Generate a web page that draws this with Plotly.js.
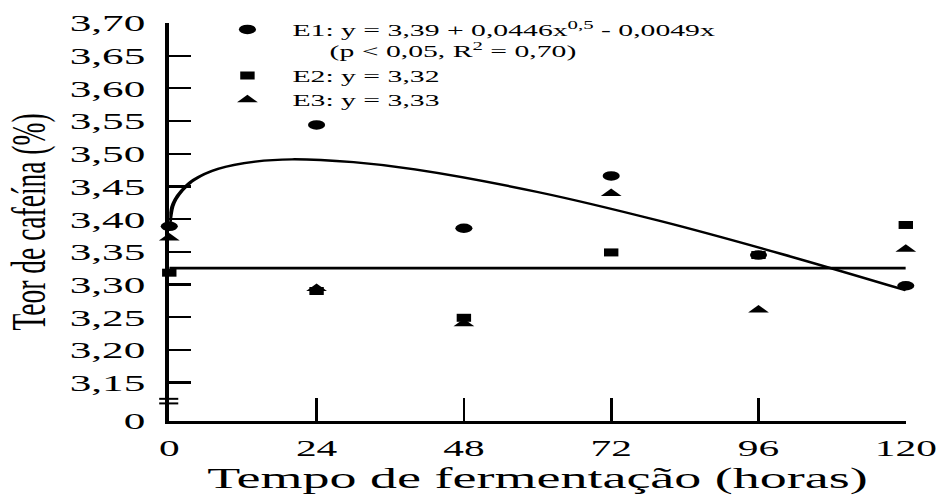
<!DOCTYPE html>
<html>
<head>
<meta charset="utf-8">
<script src="https://cdn.plot.ly/plotly-3.0.1.min.js"></script>
<style>
  html, body { margin: 0; padding: 0; background: #fff; overflow: hidden; }
  #chart { width: 522px; height: 495px; transform: scaleX(1.8008); transform-origin: 0 0; }
</style>
</head>
<body>
<div id="chart"></div>
<script>
// Fermentation time (hours)
var times = [0, 24, 48, 72, 96, 120];
// Caffeine content (%) per treatment
var e1 = [3.389, 3.544, 3.386, 3.466, 3.345, 3.298];
var e2 = [3.318, 3.290, 3.249, 3.349, 3.345, 3.391];
var e3 = [3.371, 3.294, 3.240, 3.439, 3.261, 3.354];
// Fitted curve for E1
var fitX = [0, 0.5, 1, 2, 4, 8, 14, 20, 30, 40, 60, 80, 100, 120];
var fitY = [3.390, 3.419, 3.430, 3.443, 3.460, 3.477, 3.488, 3.4915, 3.487, 3.476, 3.4415, 3.397, 3.346, 3.291];
// Mean line (E2 and E3 overlap)
var meanX = [0, 120];
var meanY = [3.325, 3.325];
// Tick labels
var xTicks = [0, 24, 48, 72, 96, 120];
var yTickVals = [3.0911, 3.15, 3.20, 3.25, 3.30, 3.35, 3.40, 3.45, 3.50, 3.55, 3.60, 3.65, 3.70];
var yTickText = ["0", "3,15", "3,20", "3,25", "3,30", "3,35", "3,40", "3,45", "3,50", "3,55", "3,60", "3,65", "3,70"];

var FONT = "Liberation Serif, Times New Roman, serif";

var traces = [
  { x: fitX, y: fitY, mode: "lines", line: { color: "#000", width: 2.3, shape: "spline" }, showlegend: false, hoverinfo: "skip", cliponaxis: false },
  { x: meanX, y: meanY, mode: "lines", line: { color: "#000", width: 2.8 }, showlegend: false, hoverinfo: "skip", cliponaxis: false },
  { x: times, y: e1, mode: "markers", cliponaxis: false,
    name: "E1: y = 3,39 + 0,0446x<sup>0,5</sup> - 0,0049x<br>\u00A0\u00A0\u00A0\u00A0\u00A0(p < 0,05, R<sup>2</sup> = 0,70)",
    marker: { symbol: "circle", size: 9.5, color: "#000" } },
  { x: times, y: e2, mode: "markers", cliponaxis: false,
    name: "E2: y = 3,32",
    marker: { symbol: "square", size: 8, color: "#000" } },
  { x: times, y: e3, mode: "markers", cliponaxis: false,
    name: "E3: y = 3,33",
    marker: { symbol: "triangle-up", size: 10, color: "#000" } }
];

var layout = {
  width: 522, height: 495,
  margin: { l: 93.9, r: 19.4, t: 20.7, b: 74, pad: 0 },
  paper_bgcolor: "#fff", plot_bgcolor: "#fff",
  font: { family: FONT, color: "#000" },
  showlegend: true,
  legend: {
    x: 0.045, y: 1.027, xanchor: "left", yanchor: "top",
    bgcolor: "rgba(0,0,0,0)", font: { family: FONT, size: 16.5, color: "#000" },
    valign: "top", tracegroupgap: 0, itemwidth: 40
  },
  xaxis: {
    range: [0, 120], tickvals: xTicks, ticktext: xTicks.map(String),
    showline: true, linecolor: "#000", linewidth: 2.5,
    ticks: "inside", ticklen: 23, tickwidth: 1.5, tickcolor: "#000",
    showgrid: false, zeroline: false, automargin: false,
    tickfont: { family: FONT, size: 23, color: "#000" },
    ticklabelstandoff: 5,
    title: { text: "Tempo de fermentação (horas)", font: { family: FONT, size: 30, color: "#000" }, standoff: 13 }
  },
  yaxis: {
    range: [3.0911, 3.70], tickvals: yTickVals, ticktext: yTickText,
    showline: true, linecolor: "#000", linewidth: 2.5,
    ticks: "inside", ticklen: 12, tickwidth: 2.2, tickcolor: "#000",
    showgrid: false, zeroline: false, automargin: false,
    tickfont: { family: FONT, size: 24, color: "#000" },
    ticklabelstandoff: 6,
    title: { text: "Teor de cafeína (%)", font: { family: FONT, size: 27.5, color: "#000" }, standoff: 8 }
  },
  shapes: [
    { type: "line", xref: "paper", yref: "paper", x0: -0.0137, x1: 0.0122, y0: 0.0557, y1: 0.0557, line: { color: "#000", width: 2 } },
    { type: "line", xref: "paper", yref: "paper", x0: -0.0137, x1: 0.0122, y0: 0.0442, y1: 0.0442, line: { color: "#000", width: 2 } }
  ]
};

Plotly.newPlot("chart", traces, layout, { displayModeBar: false, staticPlot: true });
</script>
</body>
</html>
